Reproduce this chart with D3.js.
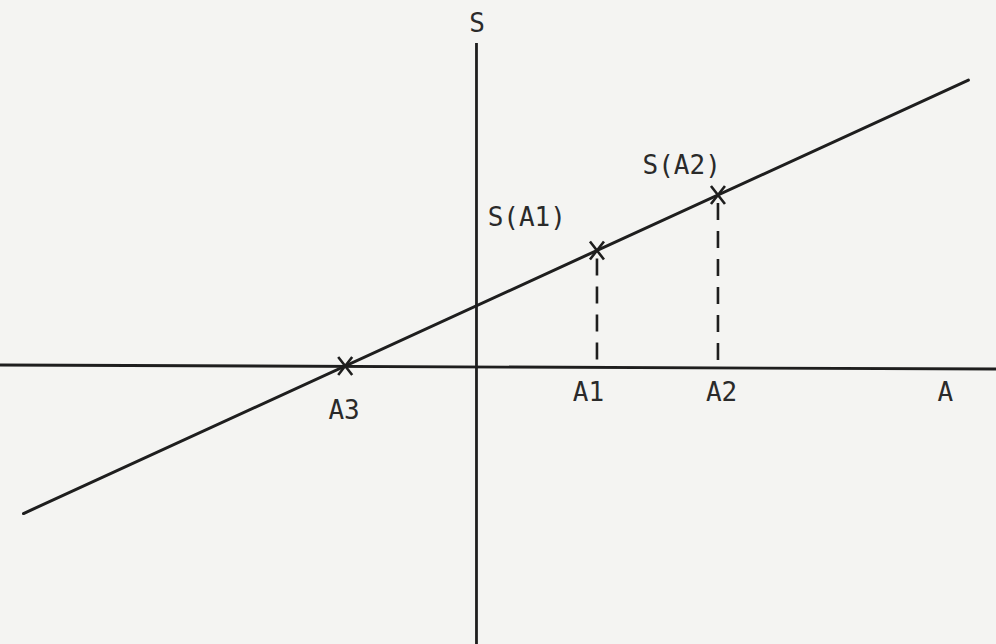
<!DOCTYPE html>
<html>
<head>
<meta charset="utf-8">
<script src="https://cdn.jsdelivr.net/npm/d3@7"></script>
<style>
  html, body { margin: 0; padding: 0; background: #f4f4f2; }
  #chart { width: 996px; height: 644px; }
</style>
</head>
<body>
<div id="chart"></div>
<script>
// diagram data, in axis units (1 unit = distance from origin to A1)
const lineIntercept = 0.496;
const lineSlope = 0.4587;
const lineExtent = [-3.74, 4.07];

const axisPoints = [
  { name: "A1", a: 1.0, label: "S(A1)", labelDx: -0.58, labelDy: 0.2 },
  { name: "A2", a: 2.0, label: "S(A2)", labelDx: -0.3, labelDy: 0.17 },
];
const rootPoint = { name: "A3", a: -1.081 };
const axisLabels = [
  { text: "A1", a: 0.93, s: -0.29 },
  { text: "A2", a: 2.03, s: -0.29 },
  { text: "A", a: 3.88, s: -0.29 },
  { text: "A3", a: -1.09, s: -0.44 },
];

(() => {
  const size = { width: 996, height: 644 };
  const ink = "#1e1e1e";
  const font = "'DejaVu Sans Mono', monospace";

  const x = d3.scaleLinear().domain([-3.934, 4.298]).range([0, size.width]);
  const y = d3.scaleLinear().domain([-2.298, 3.025]).range([size.height, 0]);
  const S = (a) => lineIntercept + lineSlope * a;

  const svg = d3
    .select("#chart")
    .append("svg")
    .attr("width", size.width)
    .attr("height", size.height);

  // axes
  svg
    .append("line")
    .attr("x1", x.range()[0])
    .attr("x2", x.range()[1])
    .attr("y1", y(0) - 1)
    .attr("y2", y(0) + 3)
    .attr("stroke", ink)
    .attr("stroke-width", 2.8);

  svg
    .append("line")
    .attr("x1", x(0) + 0.5)
    .attr("x2", x(0) + 0.5)
    .attr("y1", y(2.67))
    .attr("y2", size.height)
    .attr("stroke", ink)
    .attr("stroke-width", 2.8);

  // the straight line S(A)
  const line = d3
    .line()
    .x((a) => x(a))
    .y((a) => y(S(a)));

  svg
    .append("path")
    .attr("d", line(lineExtent))
    .attr("fill", "none")
    .attr("stroke", ink)
    .attr("stroke-width", 3)
    .attr("stroke-linecap", "round");

  // dashed drop lines
  svg
    .selectAll("line.drop")
    .data(axisPoints)
    .join("line")
    .attr("class", "drop")
    .attr("x1", (d) => x(d.a))
    .attr("x2", (d) => x(d.a))
    .attr("y1", (d) => y(S(d.a)) + 8)
    .attr("y2", y(0) - 4)
    .attr("stroke", ink)
    .attr("stroke-width", 2.6)
    .attr("stroke-dasharray", "17,11");

  // cross markers
  const crossPts = axisPoints.map((d) => ({ a: d.a, s: S(d.a) })).concat([{ a: rootPoint.a, s: 0 }]);
  const arm = 7;
  const crosses = svg
    .selectAll("g.cross")
    .data(crossPts)
    .join("g")
    .attr("class", "cross")
    .attr("transform", (d) => `translate(${x(d.a)},${y(d.s)})`);
  crosses
    .append("path")
    .attr("d", `M${-arm},${-arm - 2}L${arm},${arm + 2}M${arm},${-arm - 2}L${-arm},${arm + 2}`)
    .attr("stroke", ink)
    .attr("stroke-width", 2.6)
    .attr("fill", "none");

  // labels
  const textStyle = (sel) =>
    sel
      .attr("font-family", font)
      .attr("font-size", 26)
      .attr("fill", "#2a2a2a")
      .attr("text-anchor", "middle");

  svg
    .append("text")
    .text("S")
    .attr("x", x(0) + 1)
    .attr("y", y(2.76))
    .call(textStyle);

  svg
    .selectAll("text.pt")
    .data(axisPoints)
    .join("text")
    .attr("class", "pt")
    .text((d) => d.label)
    .attr("x", (d) => x(d.a + d.labelDx))
    .attr("y", (d) => y(S(d.a) + d.labelDy))
    .call(textStyle);

  svg
    .selectAll("text.ax")
    .data(axisLabels)
    .join("text")
    .attr("class", "ax")
    .text((d) => d.text)
    .attr("x", (d) => x(d.a))
    .attr("y", (d) => y(d.s))
    .call(textStyle);
})();
</script>
</body>
</html>
